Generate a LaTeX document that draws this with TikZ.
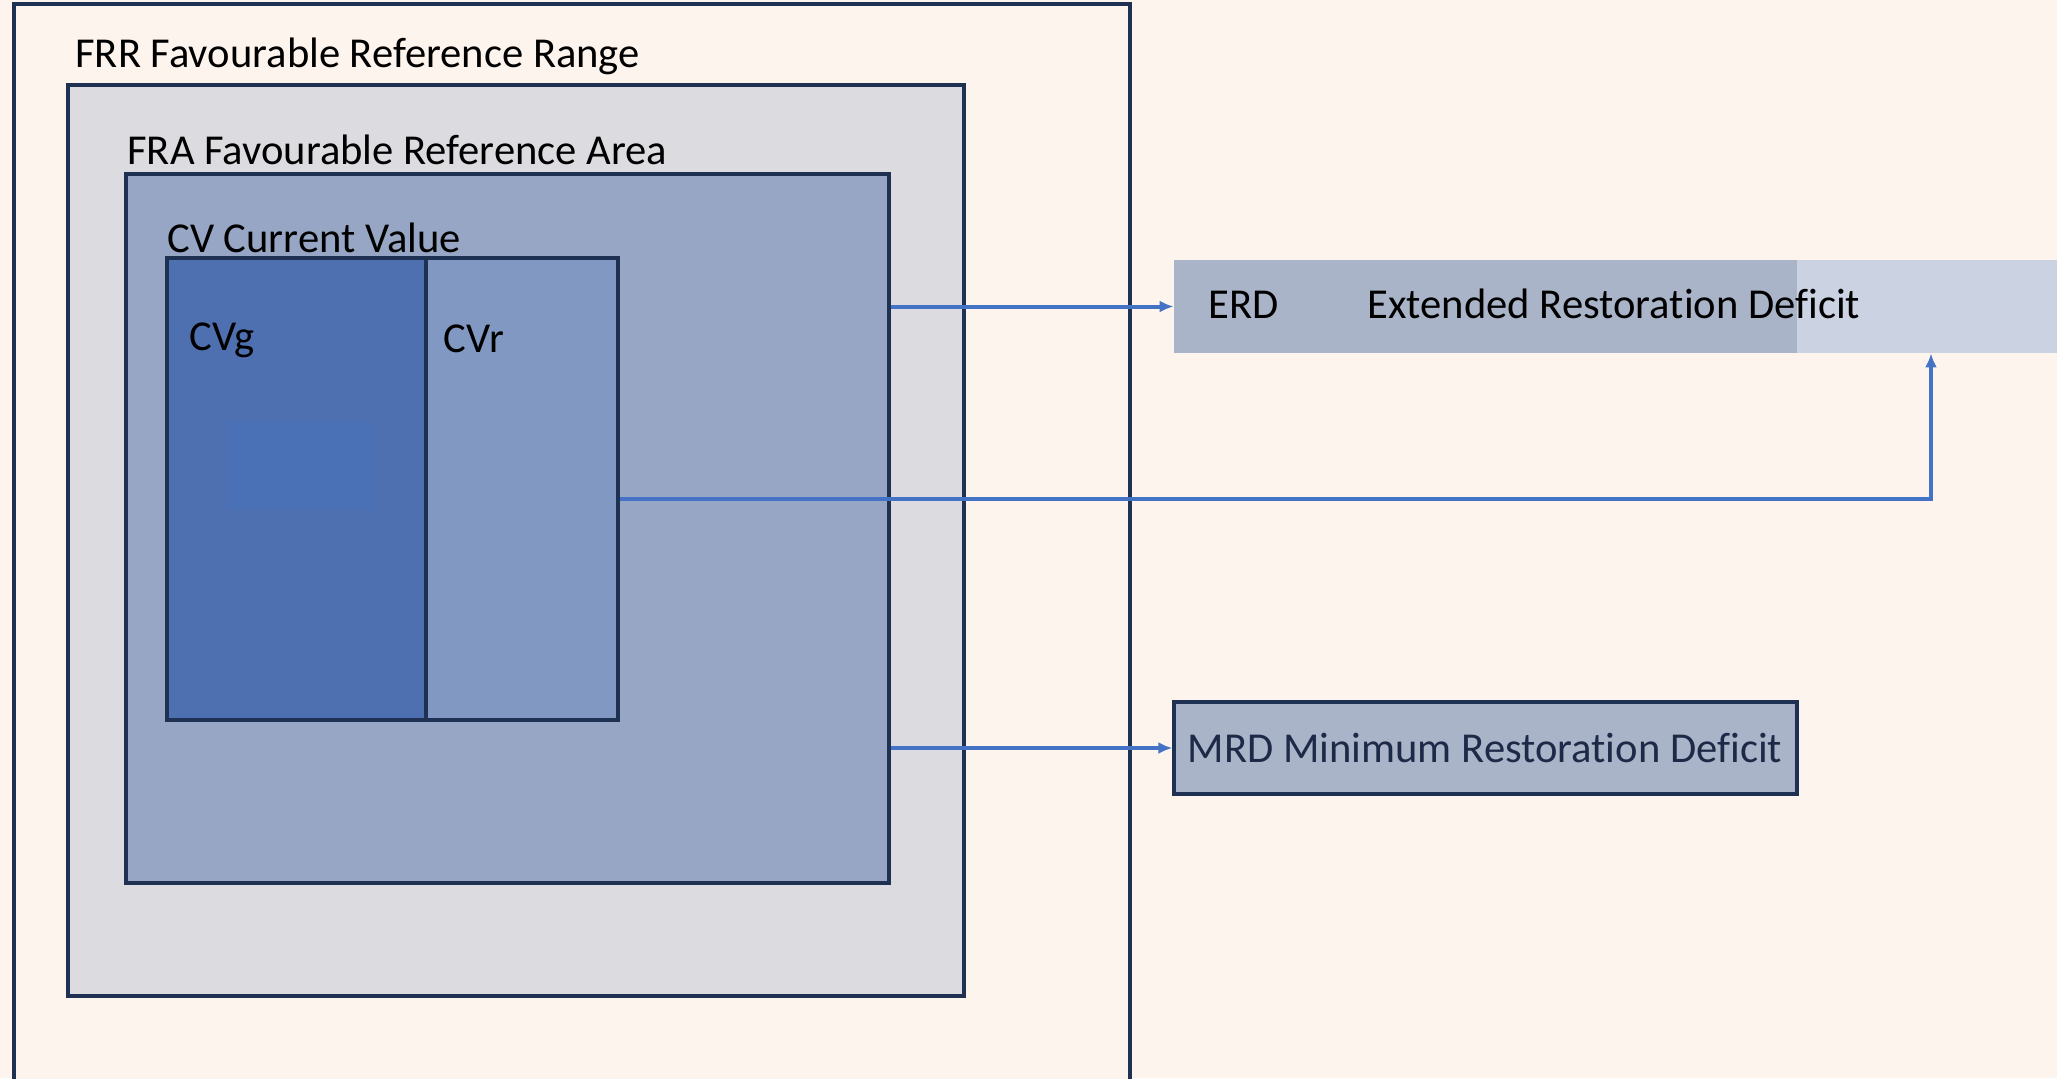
\documentclass[tikz,border=0pt]{standalone}
\usepackage{fontspec}
\setmainfont{Carlito}[Ligatures=NoCommon]
\usetikzlibrary{fit,arrows.meta}

\definecolor{bgpeach}{HTML}{FDF4EE}
\definecolor{navy}{HTML}{1F3152}
\definecolor{fraouter}{HTML}{DCDBE0}
\definecolor{frainner}{HTML}{97A6C4}
\definecolor{cvgblue}{HTML}{4E70B1}
\definecolor{cvrblue}{HTML}{8098C2}
\definecolor{cvgpatch}{HTML}{4A70B5}
\definecolor{erddark}{HTML}{AAB4C8}
\definecolor{erdlight}{HTML}{CBD2E2}
\definecolor{arrowblue}{HTML}{4472C4}
\definecolor{navytext}{HTML}{1C2A48}

\begin{document}
\begin{tikzpicture}[x=0.5pt, y=-0.5pt,
    box/.style={draw=navy, line width=1.6pt, inner sep=0pt},
    flat/.style={inner sep=0pt},
    lbl/.style={anchor=base west, inner sep=0pt, font=\fontsize{21.3}{24}\selectfont},
    arr/.style={-{Latex[length=7pt,width=6pt]}, draw=arrowblue, line width=2pt}]

    \fill[bgpeach] (0,0) rectangle (2057,1078);
    \clip (0,0) rectangle (2057,1078);

	%1
    \node[box, fill=bgpeach, fit={(14,4) (1130,1100)}] (frr) {};
    \node[lbl] (frrlbl) at (75,67) {FRR Favourable Reference Range};

	%2
    \node[box, fill=fraouter, fit={(68,85) (964,996)}] (fra) {};
    \node[lbl] (fralbl) at (127,164) {FRA Favourable Reference Area};
    \node[box, fill=frainner, fit={(126,174) (889,883)}] (area) {};

	%3
    \node[lbl] (cvlbl) at (167,252) {CV Current Value};
    \node[box, fill=cvgblue, fit={(167,258) (426,720)}] (cvg) {};
    \node[box, fill=cvrblue, fit={(426,258) (618,720)}] (cvr) {};
    \fill[cvgpatch] (227,422) rectangle (373,510);
    \node[lbl] (cvglbl) at (189,350) {CVg};
    \node[lbl] (cvrlbl) at (443,352) {CVr};

	%4
    \node[flat, fill=erdlight, fit={(1797,260) (2057,353)}] (erdx) {};
    \node[flat, fill=erddark, fit={(1174,260) (1797,353)}] (erd) {};
    \node[lbl] (erdlbl) at (1208,318) {ERD};
    \node[lbl] (erdtxt) at (1367,318) {Extended Restoration Deficit};

	%5
    \node[box, fill=erddark, fit={(1174,702) (1797,794)}] (mrd) {};
    \node[lbl, anchor=base, text=navytext] (mrdlbl) at (1485,762) {MRD Minimum Restoration Deficit};

	% arrows
    \draw[arr] (area.east |- erd.west) -- (erd.west);
    \draw[arr] (area.east |- mrd.west) -- (mrd.west);
    \draw[arr] ([yshift=-5pt]cvr.east) -| ([xshift=2pt]erdx.south);

\end{tikzpicture}
\end{document}
